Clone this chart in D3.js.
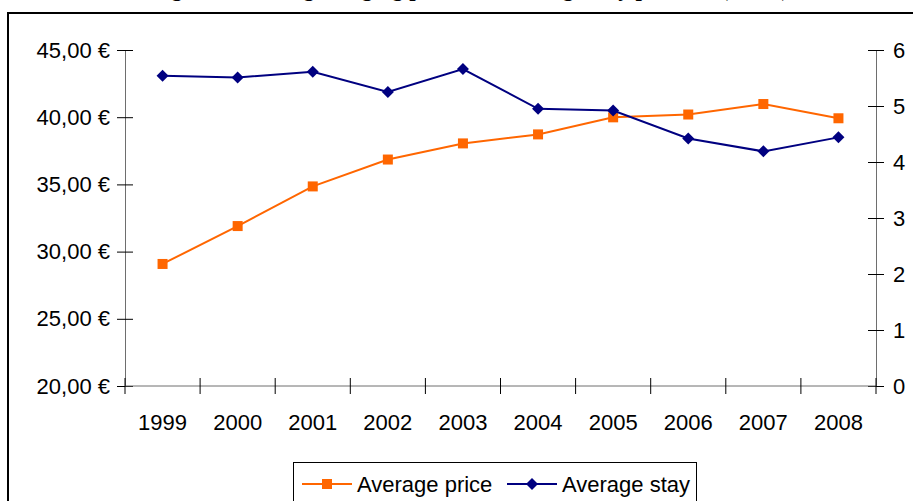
<!DOCTYPE html>
<html>
<head>
<meta charset="utf-8">
<script src="https://cdn.jsdelivr.net/npm/d3@7.9.0/dist/d3.min.js"></script>
<style>
  body { margin: 0; background: #fff; }
  svg { display: block; font-family: "Liberation Sans", Arial, sans-serif; }
</style>
</head>
<body>
<svg id="chart" width="913" height="501"></svg>
<script>
// data
const years = ["1999", "2000", "2001", "2002", "2003", "2004", "2005", "2006", "2007", "2008"];
const avgPrice = [29.08, 31.9, 34.85, 36.85, 38.05, 38.72, 39.99, 40.2, 40.98, 39.92];
const avgStay = [5.54, 5.51, 5.61, 5.25, 5.66, 4.95, 4.92, 4.42, 4.19, 4.44];
const priceTicks = [20, 25, 30, 35, 40, 45];
const stayTicks = [0, 1, 2, 3, 4, 5, 6];

const orange = "#ff6600";
const navy = "#000080";
const axisGrey = "#6e6e6e";

const svg = d3.select("#chart");

// title, mostly cut off at the top
svg.append("text")
    .attr("x", 470)
    .attr("y", -4)
    .attr("text-anchor", "middle")
    .style("font-family", "'Liberation Serif', 'Times New Roman', serif")
    .style("font-weight", "bold")
    .style("font-size", "23px")
    .text("Figure 3: Average lodging price and average stay per visit (euros)");

// outer frame
svg.append("rect")
    .attr("x", 8).attr("y", 13)
    .attr("width", 930).attr("height", 520)
    .attr("fill", "none")
    .attr("stroke", "#000")
    .attr("stroke-width", 2);

// scales
const x = d3.scaleBand().domain(years).range([125, 876]);
const yL = d3.scaleLinear().domain([20, 45]).range([386, 50]);
const yR = d3.scaleLinear().domain([0, 6]).range([386, 50]);

const fmtEuro = d => d.toFixed(2).replace(".", ",") + " €";

// left axis
const gL = svg.append("g").attr("transform", "translate(125,0)")
    .call(d3.axisLeft(yL).tickValues(priceTicks).tickFormat(fmtEuro).tickSizeInner(8).tickSizeOuter(0).tickPadding(7));
// right axis
const gR = svg.append("g").attr("transform", "translate(876,0)")
    .call(d3.axisRight(yR).tickValues(stayTicks).tickFormat(d3.format("d")).tickSizeInner(8).tickSizeOuter(0).tickPadding(9));
// bottom axis: ticks on the band edges
const edges = years.map(y => x(y)).concat([x.range()[1]]);
const gB = svg.append("g").attr("transform", "translate(0,386)");
gB.append("line").attr("x1", 125).attr("x2", 876).attr("stroke", axisGrey);
gB.selectAll("line.tk").data(edges).join("line")
    .attr("class", "tk")
    .attr("x1", d => d).attr("x2", d => d)
    .attr("y1", -8).attr("y2", 8)
    .attr("stroke", "#000");
gB.selectAll("text").data(years).join("text")
    .attr("x", d => x(d) + x.bandwidth() / 2)
    .attr("y", 44)
    .attr("text-anchor", "middle")
    .style("font-size", "22px")
    .attr("fill", "#000")
    .text(d => d);

[gL, gR].forEach(g => {
    g.select(".domain").attr("stroke", axisGrey);
    g.selectAll(".tick line").attr("stroke", "#000")
        .attr("x1", function () { return -(+d3.select(this).attr("x2")); });
    g.selectAll(".tick text").style("font-size", "22px").attr("fill", "#000");
});

const cx = d => x(d) + x.bandwidth() / 2;

// price line
svg.append("path")
    .datum(avgPrice)
    .attr("fill", "none")
    .attr("stroke", orange)
    .attr("stroke-width", 2)
    .attr("d", d3.line().x((d, i) => cx(years[i])).y(d => yL(d)));
svg.selectAll("rect.pm").data(avgPrice).join("rect")
    .attr("class", "pm")
    .attr("x", (d, i) => cx(years[i]) - 5)
    .attr("y", d => yL(d) - 5)
    .attr("width", 10).attr("height", 10)
    .attr("fill", orange);

// stay line
svg.append("path")
    .datum(avgStay)
    .attr("fill", "none")
    .attr("stroke", navy)
    .attr("stroke-width", 2)
    .attr("d", d3.line().x((d, i) => cx(years[i])).y(d => yR(d)));
const diamond = "M0,-6L6,0L0,6L-6,0Z";
svg.selectAll("path.sm").data(avgStay).join("path")
    .attr("class", "sm")
    .attr("d", diamond)
    .attr("transform", (d, i) => `translate(${cx(years[i])},${yR(d)})`)
    .attr("fill", navy);

// legend
const leg = svg.append("g");
leg.append("rect")
    .attr("x", 293.5).attr("y", 462.5)
    .attr("width", 403).attr("height", 60)
    .attr("fill", "#fff")
    .attr("stroke", "#000");
const legItems = [
    { label: "Average price", color: orange, x0: 302, marker: "square" },
    { label: "Average stay", color: navy, x0: 507, marker: "diamond" }
];
legItems.forEach(it => {
    leg.append("line")
        .attr("x1", it.x0).attr("x2", it.x0 + 50)
        .attr("y1", 484).attr("y2", 484)
        .attr("stroke", it.color).attr("stroke-width", 2);
    if (it.marker === "square") {
        leg.append("rect").attr("x", it.x0 + 20).attr("y", 479)
            .attr("width", 10).attr("height", 10).attr("fill", it.color);
    } else {
        leg.append("path").attr("d", diamond)
            .attr("transform", `translate(${it.x0 + 25},484)`)
            .attr("fill", it.color);
    }
    leg.append("text")
        .attr("x", it.x0 + 55).attr("y", 492)
        .style("font-size", "22px")
        .text(it.label);
});
</script>
</body>
</html>
